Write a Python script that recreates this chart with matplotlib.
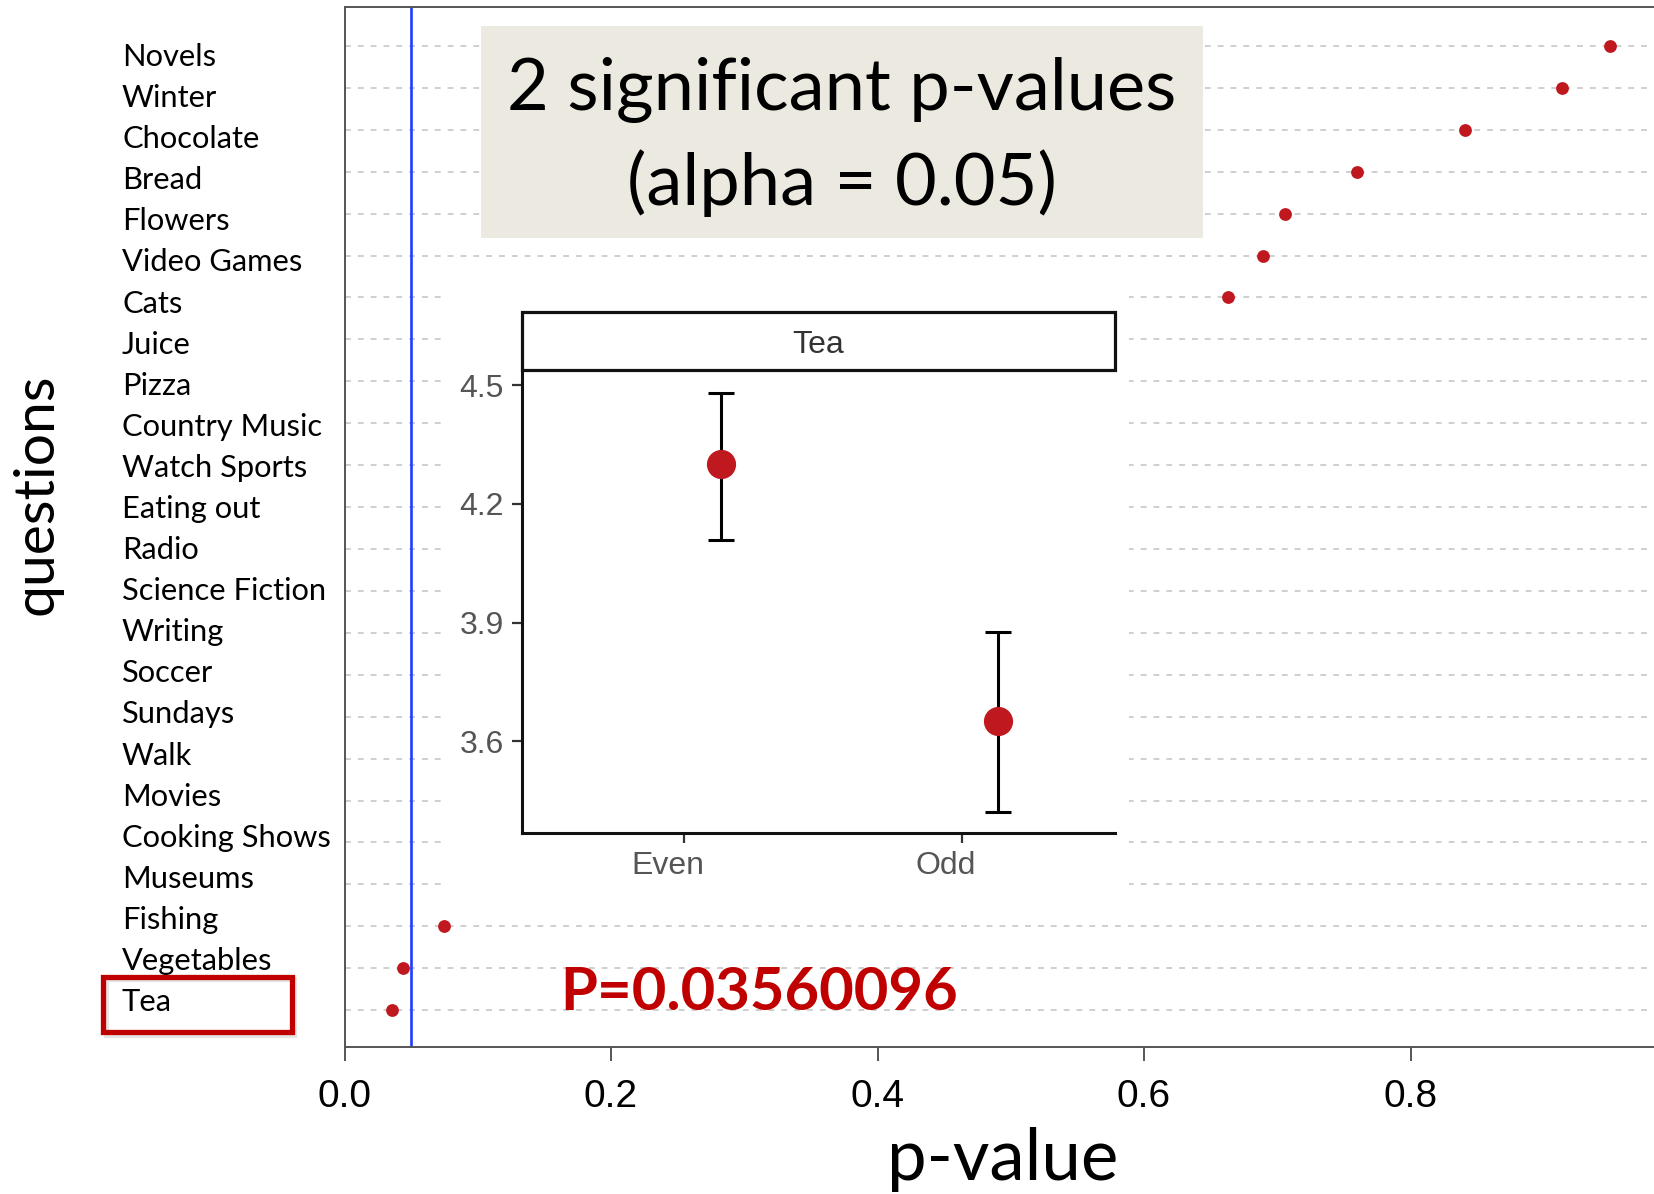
#!/usr/bin/python
# p-values per question, with the Tea question shown as an inset (Even vs Odd)

import numpy as np
import matplotlib.pyplot as plt
from matplotlib.patches import Rectangle

# questions from top to bottom, with their p-values
questions = ["Novels", "Winter", "Chocolate", "Bread", "Flowers", "Video Games",
             "Cats", "Juice", "Pizza", "Country Music", "Watch Sports", "Eating out",
             "Radio", "Science Fiction", "Writing", "Soccer", "Sundays", "Walk",
             "Movies", "Cooking Shows", "Museums", "Fishing", "Vegetables", "Tea"]
p_values = [0.950, 0.914, 0.841, 0.760, 0.706, 0.689,
            0.663, 0.570, 0.540, 0.500, 0.470, 0.430,
            0.400, 0.360, 0.320, 0.290, 0.250, 0.210,
            0.180, 0.140, 0.100, 0.075, 0.044, 0.03560096]
alpha = 0.05
xticks = [0.0, 0.2, 0.4, 0.6, 0.8]

# inset: mean rating with error bars for Tea
groups = ["Even", "Odd"]
means = [4.30, 3.65]
lower = [4.11, 3.42]
upper = [4.48, 3.875]
inset_yticks = [3.6, 3.9, 4.2, 4.5]

red = '#C0181F'
W, H = 1654.0, 1194.0

fig = plt.figure(figsize=(16.54, 11.94), dpi=100)

# main dot plot {{{
ax = fig.add_axes([344.5/W, 1 - 1047/H, 1 - 344.5/W, (1047 - 7)/H])
n = len(questions)
ypos = np.arange(n)[::-1]

for y in ypos:
    ax.axhline(y, color='#cfcfcf', lw=1.4, ls=(0, (3, 3.6)), zorder=0)
ax.axvline(alpha, color='#1f3cff', lw=1.9, zorder=1)
ax.scatter(p_values, ypos, s=85, color=red, zorder=3, linewidths=0)

ax.set_xlim(0, (W - 344.5)/1332.6)
ax.set_ylim(-0.88, n - 1 + 0.93)
ax.set_xticks(xticks)
ax.set_xticklabels(["%.1f" % v for v in xticks], fontsize=28, family='Liberation Sans')
ax.tick_params(axis='x', length=10, width=1.4, color='#555555', pad=13)
ax.set_yticks(ypos)
ax.set_yticklabels([])
ax.tick_params(axis='y', length=0)

# question labels were typed in a bit tighter than the rows
for i, q in enumerate(questions):
    fig.text(122/W, 1 - (57 + 41.09*i)/H, q, fontsize=22.2, family='Lato',
             ha='left', va='center')

for s in ['left', 'top', 'bottom']:
    ax.spines[s].set_color('#555555')
    ax.spines[s].set_linewidth(1.4)
ax.spines['right'].set_visible(False)

ax.set_xlabel("p-value", fontsize=51, family='Lato')
ax.xaxis.label.set_va('center')
ax.xaxis.set_label_coords(0.503, (1047 - 1160)/1040)
ax.set_ylabel("questions", fontsize=41, family='Lato')
ax.yaxis.label.set_va('center')
ax.yaxis.set_label_coords((37 - 344.5)/1309.5, (1047 - 494)/1040)
# }}}

# white area behind the inset
fig.add_artist(Rectangle((443/W, 1 - 900/H), (1129 - 443)/W, (900 - 290)/H,
                         transform=fig.transFigure, facecolor='white',
                         edgecolor='none', zorder=2))

# inset {{{
ins = fig.add_axes([522/W, 1 - 833/H, (1115 - 522)/W, (833 - 369.5)/H], zorder=3)
dodge = 0.13
xg = np.arange(len(groups)) + dodge
m = np.array(means)
yerr = [m - np.array(lower), np.array(upper) - m]
ins.errorbar(xg, m, yerr=yerr, fmt='none', ecolor='black', elinewidth=2.2,
             capsize=9.5, capthick=2.2, zorder=2)
ins.plot(xg, m, 'o', color=red, markersize=20, zorder=3)
ins.set_xlim(-0.585, 1.55)
ins.set_ylim(3.368, 4.54)
# tick marks on the groups, labels sit a little to the left of them
ins.set_xticks(np.arange(len(groups)))
ins.set_xticklabels([])
ins.set_xticks(np.arange(len(groups)) - 0.06, minor=True)
ins.set_xticklabels(groups, minor=True)
ins.set_yticks(inset_yticks)
ins.set_yticklabels(["%.1f" % v for v in inset_yticks])
for lab in (ins.get_xticklabels(minor=True) + ins.get_yticklabels()):
    lab.set_family('Liberation Sans')
    lab.set_fontsize(23)
    lab.set_color('#555555')
ins.tick_params(length=7, width=1.6, color='#333333', pad=6)
ins.tick_params(axis='x', which='minor', length=0, pad=13)
for s in ['top', 'right']:
    ins.spines[s].set_visible(False)
for s in ['left', 'bottom']:
    ins.spines[s].set_linewidth(2.2)
    ins.spines[s].set_color('#111111')

# facet strip
fig.add_artist(Rectangle((522/W, 1 - 369.5/H), (1115 - 522)/W, (369.5 - 312)/H,
                         transform=fig.transFigure, facecolor='white',
                         edgecolor='#111111', lw=2.3, zorder=4))
fig.text((522 + 1115)/2/W, 1 - 345/H, questions[-1], fontsize=23,
         family='Liberation Sans', color='#333333', ha='center', va='center', zorder=5)
# }}}

# title box
fig.add_artist(Rectangle((481/W, 1 - 238/H), (1203 - 481)/W, (238 - 26)/H,
                         transform=fig.transFigure, facecolor='#ECEAE0',
                         edgecolor='none', zorder=4))
fig.text(842/W, 1 - 137/H, "2 significant p-values\n(alpha = %g)" % alpha,
         fontsize=52, family='Lato', ha='center', va='center',
         linespacing=1.48, zorder=5)

# p-value of Tea
fig.text(759.5/W, 1 - 993.5/H, "P=%s" % p_values[-1], fontsize=43,
         family='Lato', weight='bold', color='#C00000', ha='center', va='center',
         zorder=5)

# red box around the Tea label, with a faint shadow
fig.add_artist(Rectangle((105.5/W, 1 - 1034.5/H), (292.3 - 103.4)/W, (1032.3 - 976.7)/H,
                         transform=fig.transFigure, facecolor='none',
                         edgecolor='#999999', lw=3.8, alpha=0.25, zorder=4))
fig.add_artist(Rectangle((103.4/W, 1 - 1032.3/H), (292.3 - 103.4)/W, (1032.3 - 976.7)/H,
                         transform=fig.transFigure, facecolor='none',
                         edgecolor='#C00000', lw=3.8, zorder=5))

fig.savefig('out.png', dpi=100)
